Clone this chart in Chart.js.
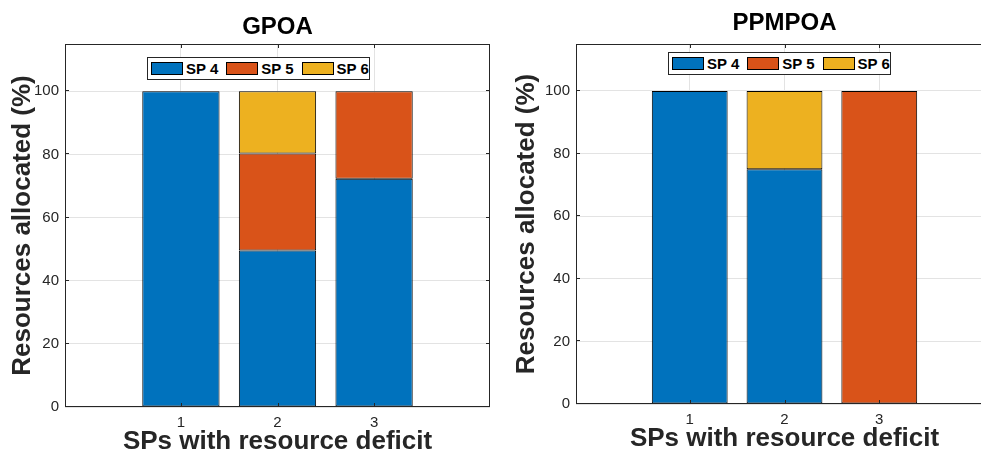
<!DOCTYPE html>
<html>
<head>
<meta charset="utf-8">
<title>GPOA vs PPMPOA</title>
<script src="https://cdn.jsdelivr.net/npm/chart.js@4.4.0/dist/chart.umd.min.js"></script>
<style>
  html, body { margin: 0; padding: 0; background: #fff; width: 981px; height: 455px; overflow: hidden; }
  .wrap { position: absolute; top: 0; height: 455px; }
  #leftWrap { left: 0; width: 491px; }
  #rightWrap { left: 490px; width: 503px; }
  canvas { display: block; }
  .legend {
    position: absolute; display: flex; align-items: center; white-space: nowrap;
    width: 223px; height: 23px; box-sizing: border-box;
    border: 1px solid #262626; background: #fff; padding-left: 3px;
    font: bold 15px "Liberation Sans", Arial, sans-serif; color: #000;
  }
  #leftLegend { left: 147px; top: 57px; }
  #rightLegend { left: 178px; top: 52px; }
  .legend .item { display: flex; align-items: center; flex: none; margin-right: 8px; }
  .legend .sw { width: 32px; height: 13px; border: 1px solid #000; box-sizing: border-box; margin-right: 3px; flex: none; }
</style>
</head>
<body>
<div class="wrap" id="leftWrap">
  <canvas id="gpoaChart" width="491" height="455"></canvas>
  <div class="legend" id="leftLegend"></div>
</div>
<div class="wrap" id="rightWrap">
  <canvas id="ppmpoaChart" width="503" height="455"></canvas>
  <div class="legend" id="rightLegend"></div>
</div>
<script>
// ===== DATA =====
const categories = [1, 2, 3];
const seriesNames = ["SP 4", "SP 5", "SP 6"];

const gpoaSP4 = [100, 49.6, 72.3];
const gpoaSP5 = [0, 30.7, 27.7];
const gpoaSP6 = [0, 19.7, 0];

const ppmpoaSP4 = [100, 75, 0];
const ppmpoaSP5 = [0, 0, 100];
const ppmpoaSP6 = [0, 25, 0];

const xTicks = [1, 2, 3];
const yTicks = [0, 20, 40, 60, 80, 100];

// ===== STYLE =====
const seriesColors = ["#0072BD", "#D95319", "#EDB120"];
const FONT = '"Liberation Sans", Arial, Helvetica, sans-serif';
const AXIS_COLOR = "#262626";
const GRID_COLOR = "#e3e3e3";

Chart.defaults.font.family = FONT;
Chart.defaults.color = AXIS_COLOR;

// box around the axes + inward tick marks (MATLAB look)
const axesBox = {
  id: "axesBox",
  afterDraw(chart) {
    const { ctx, chartArea: a, scales } = chart;
    const tl = 4;
    ctx.save();
    ctx.strokeStyle = AXIS_COLOR;
    ctx.lineWidth = 1;
    ctx.strokeRect(a.left + 0.5, a.top + 0.5, a.right - a.left - 1, a.bottom - a.top - 1);
    ctx.beginPath();
    scales.x.ticks.forEach(t => {
      const px = Math.round(scales.x.getPixelForValue(t.value)) + 0.5;
      ctx.moveTo(px, a.bottom); ctx.lineTo(px, a.bottom - tl);
      ctx.moveTo(px, a.top); ctx.lineTo(px, a.top + tl);
    });
    scales.y.ticks.forEach(t => {
      const py = Math.round(scales.y.getPixelForValue(t.value)) - 0.5;
      ctx.moveTo(a.left, py); ctx.lineTo(a.left + tl, py);
      ctx.moveTo(a.right, py); ctx.lineTo(a.right - tl, py);
    });
    ctx.stroke();
    ctx.restore();
  }
};

function buildLegend(el) {
  seriesNames.forEach((name, i) => {
    const item = document.createElement("div");
    item.className = "item";
    const sw = document.createElement("span");
    sw.className = "sw";
    sw.style.background = seriesColors[i];
    const txt = document.createElement("span");
    txt.textContent = name;
    item.appendChild(sw);
    item.appendChild(txt);
    el.appendChild(item);
  });
}

function makeChart(canvasId, title, seriesData, lay) {
  return new Chart(document.getElementById(canvasId), {
    type: "bar",
    data: {
      labels: categories,
      datasets: seriesNames.map((name, i) => ({
        label: name,
        data: seriesData[i],
        backgroundColor: seriesColors[i],
        borderColor: "#000",
        borderWidth: 1,
        borderSkipped: false,
        categoryPercentage: 1,
        barPercentage: 0.8
      }))
    },
    options: {
      responsive: false,
      animation: false,
      devicePixelRatio: 1,
      layout: { padding: { left: 0, right: lay.padRight, top: 0, bottom: 0 } },
      plugins: {
        legend: { display: false },
        tooltip: { enabled: false },
        title: {
          display: true,
          text: title,
          fullSize: false,
          color: "#000",
          font: { size: 24, weight: "bold", lineHeight: 1.2 },
          padding: { top: lay.titleTop, bottom: lay.titleBottom }
        }
      },
      scales: {
        x: {
          type: "linear",
          stacked: true,
          offset: false,
          min: -0.2,
          max: 4.2,
          afterBuildTicks: s => { s.ticks = xTicks.map(v => ({ value: v })); },
          afterFit: s => { s.height = lay.xHeight; },
          grid: { color: GRID_COLOR, drawTicks: false, offset: false },
          border: { display: false },
          ticks: { padding: 7, color: AXIS_COLOR, font: { size: 15 } },
          title: {
            display: true,
            text: "SPs with resource deficit",
            color: AXIS_COLOR,
            font: { size: 26, weight: "bold", lineHeight: 1 },
            padding: { top: 0, bottom: lay.xTitleBottom }
          }
        },
        y: {
          stacked: true,
          min: 0,
          max: 115,
          afterBuildTicks: s => { s.ticks = yTicks.map(v => ({ value: v })); },
          afterFit: s => { s.width = lay.yWidth; },
          grid: { color: GRID_COLOR, drawTicks: false },
          border: { display: false },
          ticks: { padding: 6, color: AXIS_COLOR, font: { size: 15 } },
          title: {
            display: true,
            text: "Resources allocated (%)",
            color: AXIS_COLOR,
            font: { size: 26, weight: "bold", lineHeight: 1 },
            padding: { top: lay.yTitleTop, bottom: 0 }
          }
        }
      }
    },
    plugins: [axesBox]
  });
}

buildLegend(document.getElementById("leftLegend"));
buildLegend(document.getElementById("rightLegend"));

makeChart("gpoaChart", "GPOA", [gpoaSP4, gpoaSP5, gpoaSP6], {
  padRight: 1, titleTop: 13, titleBottom: 2.2, xHeight: 48, xTitleBottom: 0, yWidth: 65, yTitleTop: 10
});
makeChart("ppmpoaChart", "PPMPOA", [ppmpoaSP4, ppmpoaSP5, ppmpoaSP6], {
  padRight: 0, titleTop: 8.6, titleBottom: 6.6, xHeight: 51, xTitleBottom: 3, yWidth: 86, yTitleTop: 24
});
</script>
</body>
</html>
